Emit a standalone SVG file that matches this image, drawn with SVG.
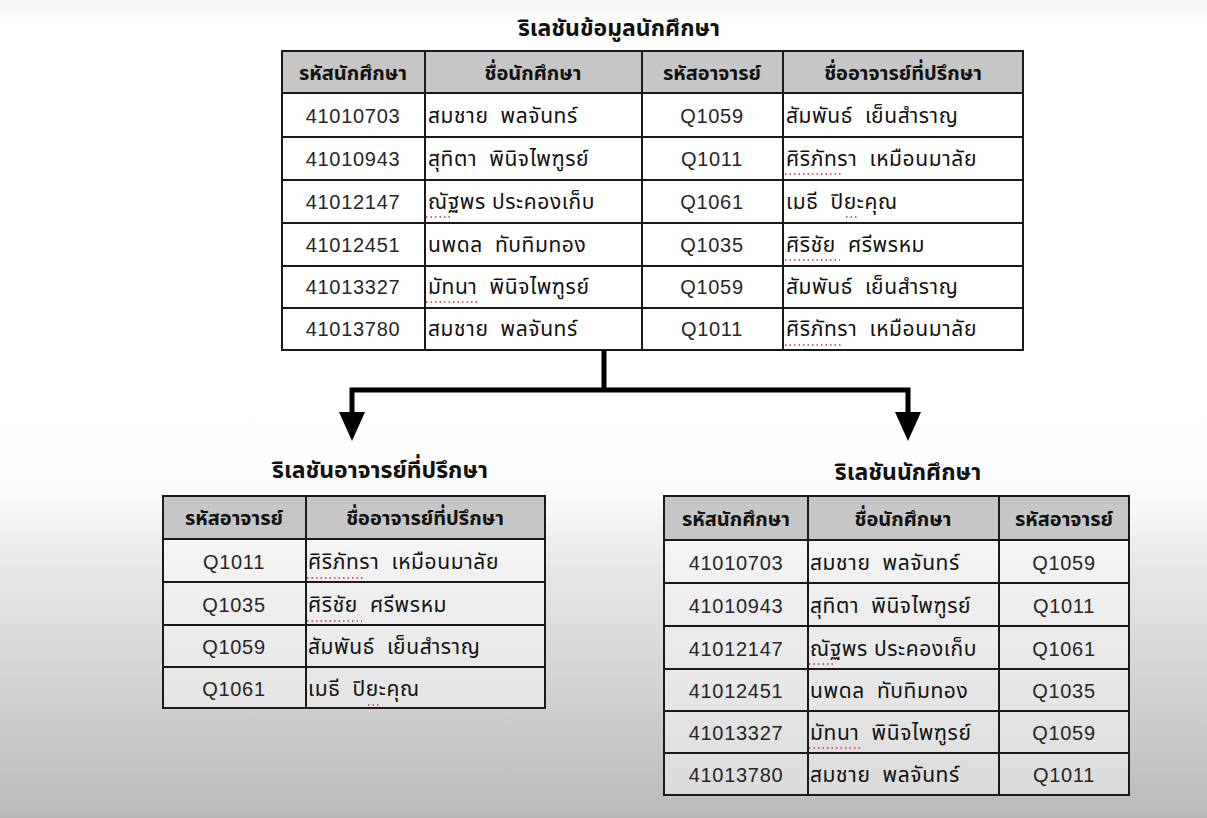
<svg xmlns="http://www.w3.org/2000/svg" width="1207" height="818" viewBox="0 0 1207 818">
<defs>
<linearGradient id="bg" x1="0" y1="0" x2="0" y2="1">
<stop offset="0" stop-color="#f4f4f4"/>
<stop offset="0.03" stop-color="#ffffff"/>
<stop offset="0.50" stop-color="#ffffff"/>
<stop offset="0.60" stop-color="#fcfcfc"/>
<stop offset="0.69" stop-color="#e8e8e8"/>
<stop offset="0.815" stop-color="#d6d6d6"/>
<stop offset="0.92" stop-color="#c6c6c6"/>
<stop offset="1" stop-color="#b9b9b9"/>
</linearGradient>
<style>
text{white-space:pre}
.grid{fill:none;stroke:#1a1a1a;stroke-width:2}
.hdr{fill:#c6c6c6}
.body{fill:#ffffff}
.body2{fill:#ffffff;fill-opacity:0.45}
.title{font-family:"Noto Sans Thai","Loma","Garuda","Noto Sans",sans-serif;font-size:23px;font-weight:bold;fill:#111;text-anchor:middle}
.th{font-family:"Noto Sans Thai","Loma","Garuda","Noto Sans",sans-serif;font-size:20px;font-weight:bold;fill:#111;text-anchor:middle}
.num{font-family:"Liberation Sans",Arial,sans-serif;font-size:20px;letter-spacing:0.7px;fill:#262626;text-anchor:middle}
.name{font-family:"Noto Sans Thai","Loma","Garuda","Noto Sans",sans-serif;font-size:21px;letter-spacing:0.6px;fill:#111}
.sp{stroke:#d03040;stroke-width:1.5;stroke-dasharray:1.5 3;fill:none}
.conn{stroke:#000;stroke-width:5;fill:none}
.head{fill:#000}
</style>
</defs>
<rect width="1207" height="818" fill="url(#bg)"/>

<g id="student-data">
<text class="title" x="619" y="36">ริเลชันข้อมูลนักศึกษา</text>
<rect class="hdr" x="282" y="51" width="741" height="42"/>
<rect class="body" x="282" y="93" width="741" height="257"/>
<g class="grid">
<rect x="282" y="51" width="741" height="299"/>
<line x1="282" y1="93" x2="1023" y2="93"/>
<line x1="282" y1="137" x2="1023" y2="137"/>
<line x1="282" y1="180" x2="1023" y2="180"/>
<line x1="282" y1="223" x2="1023" y2="223"/>
<line x1="282" y1="266" x2="1023" y2="266"/>
<line x1="282" y1="308" x2="1023" y2="308"/>
<line x1="425" y1="51" x2="425" y2="350"/>
<line x1="642" y1="51" x2="642" y2="350"/>
<line x1="783" y1="51" x2="783" y2="350"/>
</g>
<text class="th" x="353" y="80">รหัสนักศึกษา</text>
<text class="th" x="533" y="80">ชื่อนักศึกษา</text>
<text class="th" x="712" y="80">รหัสอาจารย์</text>
<text class="th" x="903" y="80">ชื่ออาจารย์ที่ปรึกษา</text>
<text class="num" x="353" y="123">41010703</text>
<text class="num" x="353" y="166">41010943</text>
<text class="num" x="353" y="209">41012147</text>
<text class="num" x="353" y="252">41012451</text>
<text class="num" x="353" y="294">41013327</text>
<text class="num" x="353" y="336">41013780</text>
<text class="name" x="428" y="123">สมชาย  พลจันทร์</text>
<text class="name" x="428" y="166">สุทิตา  พินิจไพฑูรย์</text>
<text class="name" x="428" y="209">ณัฐพร ประคองเก็บ</text>
<text class="name" x="428" y="252">นพดล  ทับทิมทอง</text>
<text class="name" x="428" y="294">มัทนา  พินิจไพฑูรย์</text>
<text class="name" x="428" y="336">สมชาย  พลจันทร์</text>
<text class="num" x="712" y="123">Q1059</text>
<text class="num" x="712" y="166">Q1011</text>
<text class="num" x="712" y="209">Q1061</text>
<text class="num" x="712" y="252">Q1035</text>
<text class="num" x="712" y="294">Q1059</text>
<text class="num" x="712" y="336">Q1011</text>
<text class="name" x="786" y="123">สัมพันธ์  เย็นสำราญ</text>
<text class="name" x="786" y="166">ศิริภัทรา  เหมือนมาลัย</text>
<text class="name" x="786" y="209">เมธี  ปิยะคุณ</text>
<text class="name" x="786" y="252">ศิริชัย  ศรีพรหม</text>
<text class="name" x="786" y="294">สัมพันธ์  เย็นสำราญ</text>
<text class="name" x="786" y="336">ศิริภัทรา  เหมือนมาลัย</text>
<line class="sp" x1="426" y1="217" x2="452" y2="217"/>
<line class="sp" x1="426" y1="302" x2="480" y2="302"/>
<line class="sp" x1="785" y1="174" x2="842" y2="174"/>
<line class="sp" x1="846" y1="217" x2="858" y2="217"/>
<line class="sp" x1="785" y1="260" x2="840" y2="260"/>
<line class="sp" x1="785" y1="345" x2="842" y2="345"/>
</g>

<g id="connectors">
<path class="conn" d="M604 350 V390"/>
<path class="conn" d="M352 415 V390 H908 V415"/>
<polygon class="head" points="339,412 365,412 352,441"/>
<polygon class="head" points="895,412 921,412 908,441"/>
</g>

<g id="advisor">
<text class="title" x="380" y="478">ริเลชันอาจารย์ที่ปรึกษา</text>
<rect class="hdr" x="163" y="496" width="382" height="43"/>
<rect class="body2" x="163" y="539" width="382" height="169"/>
<g class="grid">
<rect x="163" y="496" width="382" height="212"/>
<line x1="163" y1="539" x2="545" y2="539"/>
<line x1="163" y1="582" x2="545" y2="582"/>
<line x1="163" y1="625" x2="545" y2="625"/>
<line x1="163" y1="667" x2="545" y2="667"/>
<line x1="306" y1="496" x2="306" y2="708"/>
</g>
<text class="th" x="234" y="525">รหัสอาจารย์</text>
<text class="th" x="425" y="525">ชื่ออาจารย์ที่ปรึกษา</text>
<text class="num" x="234" y="569">Q1011</text>
<text class="num" x="234" y="612">Q1035</text>
<text class="num" x="234" y="654">Q1059</text>
<text class="num" x="234" y="696">Q1061</text>
<text class="name" x="308" y="569">ศิริภัทรา  เหมือนมาลัย</text>
<text class="name" x="308" y="612">ศิริชัย  ศรีพรหม</text>
<text class="name" x="308" y="654">สัมพันธ์  เย็นสำราญ</text>
<text class="name" x="308" y="696">เมธี  ปิยะคุณ</text>
<line class="sp" x1="307" y1="578" x2="364" y2="578"/>
<line class="sp" x1="307" y1="621" x2="362" y2="621"/>
<line class="sp" x1="368" y1="705" x2="380" y2="705"/>
</g>

<g id="student">
<text class="title" x="908" y="480">ริเลชันนักศึกษา</text>
<rect class="hdr" x="664" y="496" width="465" height="44"/>
<rect class="body2" x="664" y="540" width="465" height="255"/>
<g class="grid">
<rect x="664" y="496" width="465" height="299"/>
<line x1="664" y1="540" x2="1129" y2="540"/>
<line x1="664" y1="583" x2="1129" y2="583"/>
<line x1="664" y1="626" x2="1129" y2="626"/>
<line x1="664" y1="669" x2="1129" y2="669"/>
<line x1="664" y1="711" x2="1129" y2="711"/>
<line x1="664" y1="753" x2="1129" y2="753"/>
<line x1="808" y1="496" x2="808" y2="795"/>
<line x1="999" y1="496" x2="999" y2="795"/>
</g>
<text class="th" x="736" y="526">รหัสนักศึกษา</text>
<text class="th" x="903" y="526">ชื่อนักศึกษา</text>
<text class="th" x="1064" y="526">รหัสอาจารย์</text>
<text class="num" x="736" y="570">41010703</text>
<text class="num" x="736" y="613">41010943</text>
<text class="num" x="736" y="656">41012147</text>
<text class="num" x="736" y="698">41012451</text>
<text class="num" x="736" y="740">41013327</text>
<text class="num" x="736" y="782">41013780</text>
<text class="name" x="810" y="570">สมชาย  พลจันทร์</text>
<text class="name" x="810" y="613">สุทิตา  พินิจไพฑูรย์</text>
<text class="name" x="810" y="656">ณัฐพร ประคองเก็บ</text>
<text class="name" x="810" y="698">นพดล  ทับทิมทอง</text>
<text class="name" x="810" y="740">มัทนา  พินิจไพฑูรย์</text>
<text class="name" x="810" y="782">สมชาย  พลจันทร์</text>
<text class="num" x="1064" y="570">Q1059</text>
<text class="num" x="1064" y="613">Q1011</text>
<text class="num" x="1064" y="656">Q1061</text>
<text class="num" x="1064" y="698">Q1035</text>
<text class="num" x="1064" y="740">Q1059</text>
<text class="num" x="1064" y="782">Q1011</text>
<line class="sp" x1="809" y1="664" x2="835" y2="664"/>
<line class="sp" x1="809" y1="748" x2="863" y2="748"/>
</g>
</svg>
